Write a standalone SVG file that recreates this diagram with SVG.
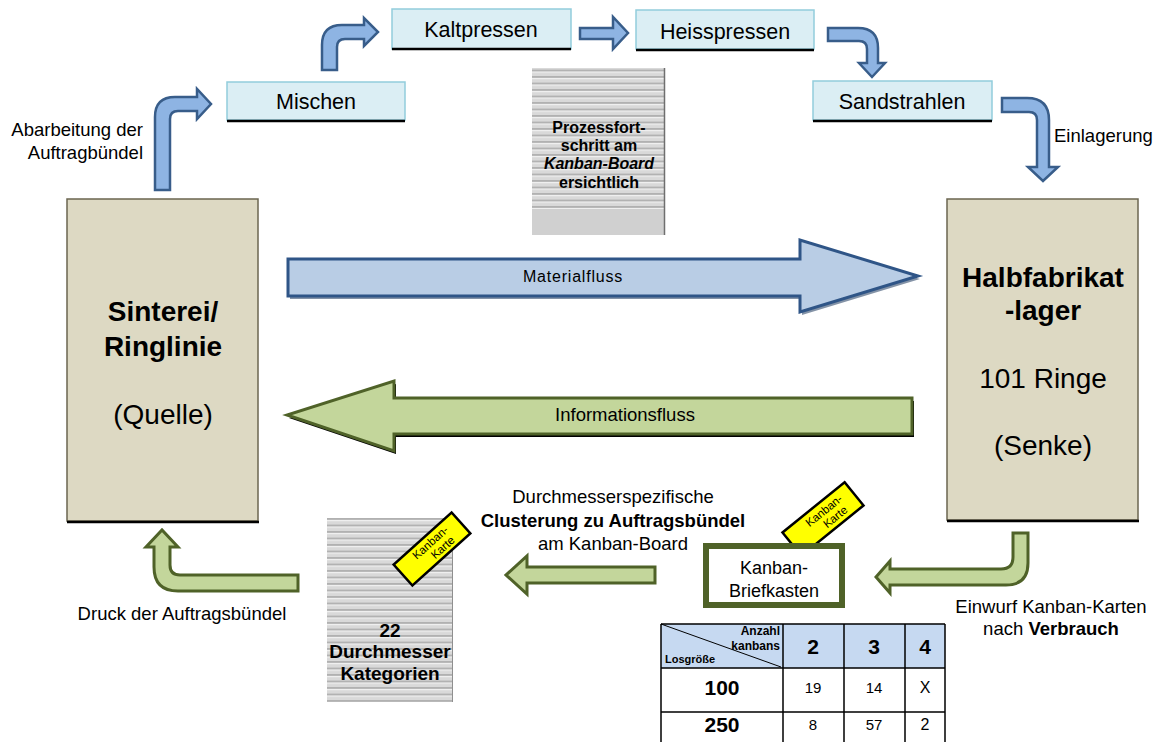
<svg xmlns="http://www.w3.org/2000/svg" width="1162" height="742" viewBox="0 0 1162 742">
<defs>
<pattern id="stripes" x="0" y="0" width="10" height="6.5" patternUnits="userSpaceOnUse">
<rect width="10" height="6.5" fill="#d9d9d9"/>
<rect y="0" width="10" height="1.2" fill="#f0f0f0"/>
<rect y="4.8" width="10" height="1.3" fill="#a3a3a3"/>
</pattern>
</defs>
<style>
text{font-family:"Liberation Sans",Arial,sans-serif;fill:#000}
.proc{fill:#dbeef4;stroke:#92cddc;stroke-width:1.5}
.shadowline{stroke:#000;stroke-width:2.5}
.big{fill:#ddd9c3;stroke:#6b6650;stroke-width:1.5}
.blue{fill:#8eb4e3;stroke:#385d8a;stroke-width:2.5;stroke-linejoin:miter}
.green{fill:#c3d69b;stroke:#4f6228;stroke-width:3;stroke-linejoin:miter}
.card{fill:#ffff00;stroke:#000;stroke-width:2.5}
.t21{font-size:21.5px;text-anchor:middle}
.t18{font-size:18.5px}
.b28{font-size:28px;text-anchor:middle}
.th{stroke:#000;stroke-width:1.5;fill:none}
</style>

<g id="connectors">
<path class="blue" d="M155,190 L155,117 Q155,97 175,97 L197,97 L197,89 L211,104 L197,119 L197,111 L178,111 Q170,111 170,119 L170,190 Z"/>
<path class="blue" d="M322,70 L322,45 Q322,25 342,25 L364,25 L364,18 L378,32 L364,46 L364,39 L345,39 Q337,39 337,47 L337,70 Z"/>
<path class="blue" d="M580,28 L613,28 L613,17 L628,33 L613,49 L613,39 L580,39 Z"/>
<path class="blue" d="M828,28 L858,28 Q878,28 878,48 L878,63 L885,63 L872,77 L859,63 L867,63 L867,49 Q867,41 859,41 L828,41 Z"/>
<path class="blue" d="M1002,98 L1027,98 Q1049,98 1049,120 L1049,167 L1058,167 L1043,181 L1028,167 L1037,167 L1037,120 Q1037,112 1029,112 L1002,112 Z"/>
<path d="M290,262 L802,262 L802,243 L920,279 L802,315 L802,299 L290,299 Z" fill="#1f3a5f" opacity="0.55"/>
<path d="M288,259 L800,259 L800,240 L918,276 L800,312 L800,296 L288,296 Z" fill="#b9cde5" stroke="#2f5587" stroke-width="3"/>
<path d="M914,401 L396,401 L396,384 L289,418 L396,454 L396,437 L914,437 Z" fill="#000"/>
<path d="M912,398 L394,398 L394,381 L287,415 L394,451 L394,434 L912,434 Z" class="green"/>
<path class="green" d="M1013,533 L1013,557 Q1013,569 1001,569 L890,569 L890,561 L876,577 L890,593 L890,585 L1006,585 Q1028,585 1028,563 L1028,533 Z"/>
<path class="green" d="M655,567 L527,567 L527,556 L506,575 L527,594 L527,583 L655,583 Z"/>
<path class="green" d="M298,575 L180,575 Q170,575 170,565 L170,547 L178,547 L162,530 L146,547 L154,547 L154,567 Q154,591 178,591 L298,591 Z"/>
<text x="573" y="282" font-size="16" text-anchor="middle" letter-spacing="0.8">Materialfluss</text>
<text x="625" y="421" font-size="18.5" text-anchor="middle">Informationsfluss</text>
</g>

<g id="sinterei">
<rect class="big" x="67" y="199" width="191" height="322"/>
<line class="shadowline" x1="67" y1="522" x2="259" y2="522" stroke-width="3"/>
<text class="b28" x="163" y="321" font-weight="bold">Sinterei/</text>
<text class="b28" x="163" y="356" font-weight="bold">Ringlinie</text>
<text class="b28" x="163" y="424">(Quelle)</text>
</g>

<g id="halbfabrikat">
<rect class="big" x="947" y="199" width="191" height="321"/>
<line class="shadowline" x1="947" y1="521" x2="1139" y2="521" stroke-width="3"/>
<text class="b28" x="1043" y="287" font-weight="bold">Halbfabrikat</text>
<text class="b28" x="1043" y="320" font-weight="bold">-lager</text>
<text class="b28" x="1043" y="388">101 Ringe</text>
<text class="b28" x="1043" y="455">(Senke)</text>
</g>

<g id="mischen">
<rect class="proc" x="227" y="82" width="178" height="38"/>
<line class="shadowline" x1="227" y1="121" x2="405" y2="121"/>
<text class="t21" x="316" y="109">Mischen</text>
</g>
<g id="kaltpressen">
<rect class="proc" x="392" y="9" width="179" height="40"/>
<line class="shadowline" x1="392" y1="49" x2="571" y2="49"/>
<text class="t21" x="481" y="37">Kaltpressen</text>
</g>
<g id="heisspressen">
<rect class="proc" x="636" y="10" width="178" height="39"/>
<line class="shadowline" x1="636" y1="50" x2="814" y2="50"/>
<text class="t21" x="725" y="39">Heisspressen</text>
</g>
<g id="sandstrahlen">
<rect class="proc" x="813" y="81" width="179" height="39"/>
<line class="shadowline" x1="813" y1="121" x2="992" y2="121"/>
<text class="t21" x="902" y="109">Sandstrahlen</text>
</g>

<g id="kanban-board-top">
<rect x="532" y="68" width="133" height="141" fill="url(#stripes)"/>
<rect x="532" y="209" width="133" height="26" fill="#d0d0d0"/>
<line x1="664.5" y1="68" x2="664.5" y2="235" stroke="#6f6f6f" stroke-width="1.5"/>
<text x="599" y="133" font-size="16" font-weight="bold" text-anchor="middle">Prozessfort-</text>
<text x="599" y="151" font-size="16" font-weight="bold" text-anchor="middle">schritt am</text>
<text x="599" y="169" font-size="16" font-weight="bold" font-style="italic" text-anchor="middle">Kanban-Board</text>
<text x="599" y="188" font-size="16" font-weight="bold" text-anchor="middle">ersichtlich</text>
</g>

<g id="kanban-board-bottom">
<rect x="327" y="518" width="126" height="184" fill="url(#stripes)"/>
<line x1="452.5" y1="518" x2="452.5" y2="702" stroke="#8f8f8f" stroke-width="1"/>
<text x="390" y="637" font-size="19" font-weight="bold" text-anchor="middle">22</text>
<text x="390" y="658" font-size="19" font-weight="bold" text-anchor="middle">Durchmesser</text>
<text x="390" y="680" font-size="19" font-weight="bold" text-anchor="middle">Kategorien</text>
</g>

<g id="card-left">
<g transform="translate(432,549) rotate(-42)">
<rect class="card" x="-39" y="-14" width="78" height="28"/>
<text x="3" y="-2" font-size="11.5" text-anchor="middle">Kanban-</text>
<text x="9" y="10" font-size="11.5" text-anchor="middle">Karte</text>
</g>
</g>

<g id="card-right">
<g transform="translate(823,519) rotate(-39)">
<rect class="card" x="-40" y="-15" width="80" height="30"/>
<text x="6" y="-2" font-size="11.5" text-anchor="middle">Kanban-</text>
<text x="11" y="10" font-size="11.5" text-anchor="middle">Karte</text>
</g>
</g>

<g id="briefkasten">
<rect x="706" y="546" width="136" height="59" fill="#fff" stroke="#4f6228" stroke-width="6"/>
<text x="774" y="574" font-size="18" text-anchor="middle">Kanban-</text>
<text x="774" y="597" font-size="18" text-anchor="middle">Briefkasten</text>
</g>

<g id="labels">
<text class="t18" x="143" y="136" text-anchor="end">Abarbeitung der</text>
<text class="t18" x="143" y="159" text-anchor="end">Auftragbündel</text>
<text class="t18" x="1054" y="142">Einlagerung</text>
<text class="t18" x="182" y="620" text-anchor="middle">Druck der Auftragsbündel</text>
<text class="t18" x="613" y="503" text-anchor="middle">Durchmesserspezifische</text>
<text class="t18" x="613" y="527" text-anchor="middle" font-weight="bold">Clusterung zu Auftragsbündel</text>
<text class="t18" x="613" y="550" text-anchor="middle">am Kanban-Board</text>
<text class="t18" x="1051" y="613" text-anchor="middle">Einwurf Kanban-Karten</text>
<text class="t18" x="1051" y="635" text-anchor="middle">nach <tspan font-weight="bold">Verbrauch</tspan></text>
</g>

<g id="table">
<rect x="661" y="624" width="284" height="44" fill="#c6d9f1"/>
<rect x="661" y="668" width="284" height="74" fill="#fff"/>
<path class="th" d="M661,624 H945 M661,668 H945 M661,712 H945 M661,624 V742 M783,624 V742 M844,624 V742 M905,624 V742 M945,624 V742"/>
<line x1="661" y1="624" x2="781" y2="667" stroke="#000" stroke-width="1"/>
<text x="780" y="635" font-size="12" font-weight="bold" text-anchor="end">Anzahl</text>
<text x="780" y="650" font-size="12" font-weight="bold" text-anchor="end">kanbans</text>
<text x="665" y="663" font-size="11" font-weight="bold">Losgröße</text>
<text x="813" y="654" font-size="21" font-weight="bold" text-anchor="middle">2</text>
<text x="874" y="654" font-size="21" font-weight="bold" text-anchor="middle">3</text>
<text x="925" y="654" font-size="21" font-weight="bold" text-anchor="middle">4</text>
<text x="722" y="695" font-size="21" font-weight="bold" text-anchor="middle">100</text>
<text x="813" y="693" font-size="15" text-anchor="middle">19</text>
<text x="874" y="693" font-size="15" text-anchor="middle">14</text>
<text x="925" y="693" font-size="16" text-anchor="middle">X</text>
<text x="722" y="732" font-size="21" font-weight="bold" text-anchor="middle">250</text>
<text x="813" y="730" font-size="15" text-anchor="middle">8</text>
<text x="874" y="730" font-size="15" text-anchor="middle">57</text>
<text x="925" y="730" font-size="16" text-anchor="middle">2</text>
</g>
</svg>
